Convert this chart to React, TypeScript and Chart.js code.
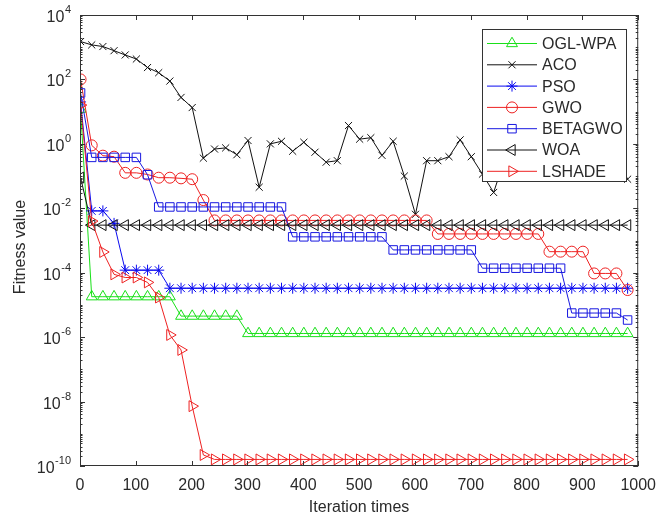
import React, { useEffect, useRef } from "react";
import { Chart, registerables } from "chart.js";
import { drawPoint } from "chart.js/helpers";

Chart.register(...registerables);

// ---------------- data ----------------
const iterations = [
  1, 21, 41, 61, 81, 101, 121, 141, 161, 181, 201, 221, 241, 261, 281, 301, 321, 341, 361, 381,
  401, 421, 441, 461, 481, 501, 521, 541, 561, 581, 601, 621, 641, 661, 681, 701, 721, 741, 761, 781,
  801, 821, 841, 861, 881, 901, 921, 941, 961, 981,
];

const oglWpa = [
  12, 1.8e-5, 1.8e-5, 1.8e-5, 1.8e-5, 1.8e-5, 1.8e-5, 1.8e-5, 1.8e-5,
  4.5e-6, 4.5e-6, 4.5e-6, 4.5e-6, 4.5e-6, 4.5e-6,
  1.3e-6, 1.3e-6, 1.3e-6, 1.3e-6, 1.3e-6, 1.3e-6, 1.3e-6, 1.3e-6, 1.3e-6, 1.3e-6,
  1.3e-6, 1.3e-6, 1.3e-6, 1.3e-6, 1.3e-6, 1.3e-6, 1.3e-6, 1.3e-6, 1.3e-6, 1.3e-6,
  1.3e-6, 1.3e-6, 1.3e-6, 1.3e-6, 1.3e-6, 1.3e-6, 1.3e-6, 1.3e-6, 1.3e-6, 1.3e-6,
  1.3e-6, 1.3e-6, 1.3e-6, 1.3e-6, 1.3e-6,
];

const aco = [
  1500, 1180, 1050, 780, 575, 430, 234, 162, 89, 27.6,
  13.4, 0.36, 0.69, 0.75, 0.46, 1.27, 0.045, 1.0, 1.2, 0.59,
  1.12, 0.55, 0.27, 0.3, 3.7, 1.4, 1.55, 0.44, 1.2, 0.1,
  0.0065, 0.3, 0.3, 0.4, 1.33, 0.4, 0.115, 0.031, 0.35, 1.1,
  0.6, 2.0, 0.9, 0.4, 1.3, 0.7, 0.5, 1.0, 0.4, 0.08,
];

const pso = [
  20, 0.0083, 0.0083, 0.0034, 1.2e-4, 1.2e-4, 1.2e-4, 1.2e-4,
  3.3e-5, 3.3e-5, 3.3e-5, 3.3e-5, 3.3e-5, 3.3e-5, 3.3e-5, 3.3e-5, 3.3e-5, 3.3e-5,
  3.3e-5, 3.3e-5, 3.3e-5, 3.3e-5, 3.3e-5, 3.3e-5, 3.3e-5, 3.3e-5, 3.3e-5, 3.3e-5,
  3.3e-5, 3.3e-5, 3.3e-5, 3.3e-5, 3.3e-5, 3.3e-5, 3.3e-5, 3.3e-5, 3.3e-5, 3.3e-5,
  3.3e-5, 3.3e-5, 3.3e-5, 3.3e-5, 3.3e-5, 3.3e-5, 3.3e-5, 3.3e-5, 3.3e-5, 3.3e-5,
  3.3e-5, 3.3e-5,
];

const gwo = [
  100, 0.9, 0.43, 0.4, 0.126, 0.126, 0.112, 0.089, 0.089, 0.085, 0.08, 0.018,
  0.0042, 0.0042, 0.0042, 0.0042, 0.0042, 0.0042, 0.0042, 0.0042, 0.0042, 0.0042,
  0.0042, 0.0042, 0.0042, 0.0042, 0.0042, 0.0042, 0.0042, 0.0042, 0.0042, 0.0042,
  0.0016, 0.0016, 0.0016, 0.0016, 0.0016, 0.0016, 0.0016, 0.0016, 0.0016, 0.0016,
  4.5e-4, 4.5e-4, 4.5e-4, 4.5e-4,
  9.5e-5, 9.5e-5, 9.5e-5,
  2.9e-5,
];

const betagwo = [
  38, 0.38, 0.38, 0.38, 0.38, 0.38, 0.11,
  0.011, 0.011, 0.011, 0.011, 0.011, 0.011, 0.011, 0.011, 0.011, 0.011, 0.011, 0.011,
  0.0013, 0.0013, 0.0013, 0.0013, 0.0013, 0.0013, 0.0013, 0.0013, 0.0013,
  5.1e-4, 5.1e-4, 5.1e-4, 5.1e-4, 5.1e-4, 5.1e-4, 5.1e-4, 5.1e-4,
  1.38e-4, 1.38e-4, 1.38e-4, 1.38e-4, 1.38e-4, 1.38e-4, 1.38e-4, 1.38e-4,
  5.6e-6, 5.6e-6, 5.6e-6, 5.6e-6, 5.6e-6,
  3.4e-6,
];

const woa = [
  0.09, 0.003, 0.003, 0.003, 0.003, 0.003, 0.003, 0.003, 0.003, 0.003,
  0.003, 0.003, 0.003, 0.003, 0.003, 0.003, 0.003, 0.003, 0.003, 0.003,
  0.003, 0.003, 0.003, 0.003, 0.003, 0.003, 0.003, 0.003, 0.003, 0.003,
  0.003, 0.003, 0.003, 0.003, 0.003, 0.003, 0.003, 0.003, 0.003, 0.003,
  0.003, 0.003, 0.003, 0.003, 0.003, 0.003, 0.003, 0.003, 0.003, 0.003,
];

const lshade = [
  16, 0.004, 4.4e-4, 8.9e-5, 7.1e-5, 7.1e-5, 5.0e-5, 1.7e-5, 1.17e-6, 4.0e-7, 7.2e-9, 2.2e-10,
  1.6e-10, 1.6e-10, 1.6e-10, 1.6e-10, 1.6e-10, 1.6e-10, 1.6e-10, 1.6e-10, 1.6e-10, 1.6e-10,
  1.6e-10, 1.6e-10, 1.6e-10, 1.6e-10, 1.6e-10, 1.6e-10, 1.6e-10, 1.6e-10, 1.6e-10, 1.6e-10,
  1.6e-10, 1.6e-10, 1.6e-10, 1.6e-10, 1.6e-10, 1.6e-10, 1.6e-10, 1.6e-10, 1.6e-10, 1.6e-10,
  1.6e-10, 1.6e-10, 1.6e-10, 1.6e-10, 1.6e-10, 1.6e-10, 1.6e-10, 1.6e-10,
];

const seriesNames = ["OGL-WPA", "ACO", "PSO", "GWO", "BETAGWO", "WOA", "LSHADE"];
const seriesValues = [oglWpa, aco, pso, gwo, betagwo, woa, lshade];
const seriesColors = ["#19e019", "#111111", "#0a0af0", "#ee2222", "#1818e0", "#111111", "#ee2222"];
const pointStyles = ["triangle", "crossRot", "star", "circle", "rect", "triangle", "triangle"];
const pointRotations = [0, 0, 0, 0, 0, -90, 90];
const pointRadii = [6.3, 5, 5.5, 5.5, 6, 6.3, 6.3];

const xTickValues = [0, 100, 200, 300, 400, 500, 600, 700, 800, 900, 1000];
const yLabelExponents = [4, 2, 0, -2, -4, -6, -8, -10];
const xTitle = "Iteration times";
const yTitle = "Fitness value";

// ---------------- layout ----------------
const W = 666;
const H = 519;
const PLOT_LEFT = 80;
const PLOT_RIGHT = 639;
const PLOT_TOP = 15;
const PLOT_BOTTOM = 466;
const FONT = '"Liberation Sans", Arial, Helvetica, sans-serif';
const TEXT = "#2a2a2a";
const AXIS = "#333333";

const framePlugin = {
  id: "matlabFrame",
  afterDatasetsDraw(chart: any) {
    const { ctx, chartArea: a, scales } = chart;
    const xs = scales.x;
    const ys = scales.y;
    ctx.save();
    ctx.strokeStyle = AXIS;
    ctx.lineWidth = 1;
    ctx.strokeRect(a.left + 0.5, a.top + 0.5, a.right - a.left - 1, a.bottom - a.top - 1);
    ctx.beginPath();
    for (const v of xTickValues) {
      const px = Math.round(xs.getPixelForValue(v)) + 0.5;
      ctx.moveTo(px, a.bottom);
      ctx.lineTo(px, a.bottom - 5);
      ctx.moveTo(px, a.top);
      ctx.lineTo(px, a.top + 5);
    }
    for (let d = -10; d <= 3; d++) {
      for (let k = 1; k <= 9; k++) {
        const v = k * Math.pow(10, d);
        const py = Math.round(ys.getPixelForValue(v)) + 0.5;
        const major = k === 1 && yLabelExponents.includes(d);
        const len = major ? 5 : 2.5;
        ctx.moveTo(a.left, py);
        ctx.lineTo(a.left + len, py);
        ctx.moveTo(a.right, py);
        ctx.lineTo(a.right - len, py);
      }
    }
    ctx.stroke();

    // y tick labels 10^n
    ctx.fillStyle = TEXT;
    const right = 71;
    for (const e of yLabelExponents) {
      const ty = ys.getPixelForValue(Math.pow(10, e));
      const es = String(e);
      ctx.font = `11px ${FONT}`;
      const ew = ctx.measureText(es).width;
      ctx.textAlign = "left";
      ctx.textBaseline = "alphabetic";
      ctx.fillText(es, right - ew, ty - 2);
      ctx.font = `16px ${FONT}`;
      const w10 = ctx.measureText("10").width;
      ctx.fillText("10", right - ew - w10 - 0.5, ty + 7);
    }

    // axis titles
    ctx.font = `16px ${FONT}`;
    ctx.textAlign = "center";
    ctx.textBaseline = "middle";
    ctx.fillText(xTitle, (a.left + a.right) / 2, 508);
    ctx.save();
    ctx.translate(21, 247);
    ctx.rotate(-Math.PI / 2);
    ctx.fillText(yTitle, 0, 0);
    ctx.restore();
    ctx.restore();
  },
  afterDraw(chart: any) {
    const { ctx } = chart;
    const left = 482;
    const top = 29;
    const w = 145;
    const h = 153;
    ctx.save();
    ctx.fillStyle = "#ffffff";
    ctx.fillRect(left, top, w, h);
    ctx.strokeStyle = AXIS;
    ctx.lineWidth = 1;
    ctx.strokeRect(left + 0.5, top + 0.5, w - 1, h - 1);
    seriesNames.forEach((name, i) => {
      const ry = top + 14.5 + i * 21.3;
      ctx.strokeStyle = seriesColors[i];
      ctx.lineWidth = 1;
      ctx.beginPath();
      ctx.moveTo(left + 5, ry);
      ctx.lineTo(left + 55, ry);
      ctx.stroke();
      ctx.fillStyle = "rgba(0,0,0,0)";
      drawPoint(
        ctx,
        {
          pointStyle: pointStyles[i],
          rotation: pointRotations[i],
          radius: pointRadii[i],
          borderWidth: 1,
        } as any,
        left + 30,
        ry
      );
      ctx.fillStyle = TEXT;
      ctx.font = `16px ${FONT}`;
      ctx.textAlign = "left";
      ctx.textBaseline = "middle";
      ctx.fillText(name, left + 60, ry + 1);
    });
    ctx.restore();
  },
};

export default function App() {
  const ref = useRef<HTMLCanvasElement | null>(null);
  useEffect(() => {
    if (!ref.current) return;
    const datasets = seriesNames.map((name, i) => ({
      label: name,
      data: iterations.map((it, j) => ({ x: it, y: seriesValues[i][j] })),
      borderColor: seriesColors[i],
      backgroundColor: "rgba(0,0,0,0)",
      pointBorderColor: seriesColors[i],
      pointBackgroundColor: "rgba(0,0,0,0)",
      pointStyle: pointStyles[i],
      pointRotation: pointRotations[i],
      pointRadius: pointRadii[i],
      pointBorderWidth: 1,
      borderWidth: 1,
      tension: 0,
      fill: false,
      order: seriesNames.length - i,
    }));
    const chart = new Chart(ref.current, {
      type: "line",
      data: { datasets },
      options: {
        animation: false,
        responsive: false,
        devicePixelRatio: 1,
        events: [],
        layout: { padding: { left: 0, right: W - PLOT_RIGHT, top: PLOT_TOP, bottom: 0 } },
        plugins: { legend: { display: false }, tooltip: { enabled: false } },
        scales: {
          x: {
            type: "linear",
            min: 0,
            max: 1000,
            grid: { display: false, drawTicks: false },
            border: { display: false },
            ticks: {
              stepSize: 100,
              autoSkip: false,
              maxRotation: 0,
              padding: 10,
              color: TEXT,
              font: { family: FONT, size: 16 },
              callback: (v: any) => String(v),
            },
            afterFit: (s: any) => {
              s.height = H - PLOT_BOTTOM;
            },
          },
          y: {
            type: "logarithmic",
            min: 1e-10,
            max: 1e4,
            grid: { display: false, drawTicks: false },
            border: { display: false },
            ticks: { display: false },
            afterFit: (s: any) => {
              s.width = PLOT_LEFT;
            },
          },
        },
      } as any,
      plugins: [framePlugin],
    });
    return () => chart.destroy();
  }, []);
  return (
    <div style={{ position: "absolute", left: 0, top: 0, width: W, height: H, background: "#fff" }}>
      <canvas ref={ref} width={W} height={H} style={{ width: W, height: H, display: "block" }} />
    </div>
  );
}
